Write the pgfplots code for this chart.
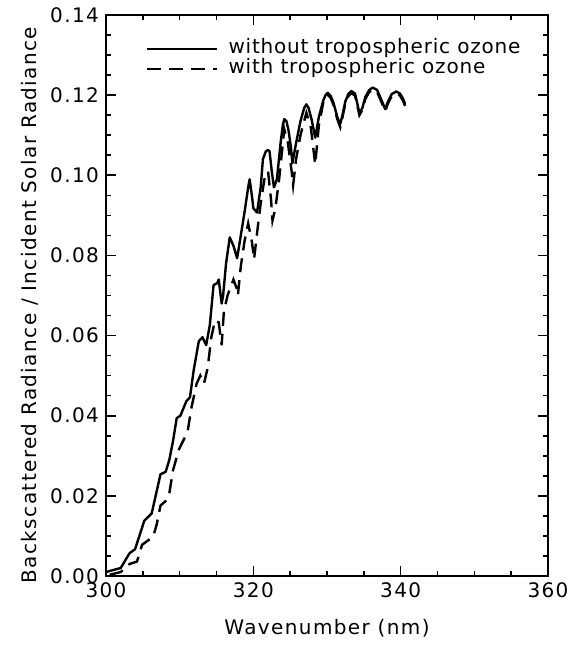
\documentclass[border=0pt]{standalone}
\usepackage{pgfplots}
\pgfplotsset{compat=1.18}
\usepackage{fontspec}
\setmainfont{DejaVu Sans}[LetterSpace=7]

\begin{document}
\begin{tikzpicture}
\useasboundingbox (-53pt,-34.5pt) rectangle (230.5pt,288pt);
\begin{axis}[
  scale only axis, width=221pt, height=280.5pt,
  xmin=300, xmax=360, ymin=0, ymax=0.14,
  xtick={300,320,340,360},
  ytick={0,0.02,0.04,0.06,0.08,0.10,0.12,0.14},
  minor x tick num=3, minor y tick num=3,
  tick align=inside,
  major tick length=5pt, minor tick length=2.5pt,
  axis line style={line width=1pt},
  every tick/.style={line width=0.8pt, black},
  scaled y ticks=false,
  yticklabel style={/pgf/number format/.cd, fixed, fixed zerofill, precision=2},
  /pgf/number format/assume math mode=true,
  tick label style={font=\fontsize{10}{12}\selectfont},
  label style={font=\fontsize{10}{12}\selectfont},
  xlabel={Wavenumber (nm)},
  ylabel={Backscattered Radiance / Incident Solar Radiance},
  every axis x label/.style={at={(axis description cs:0.5,-0.0927)}, anchor=center},
  every axis y label/.style={at={(axis description cs:-0.172,0.483)}, rotate=90, anchor=center},
  legend image code/.code={\draw[#1] (0pt,0pt) -- (35pt,0pt);},
  legend cell align=left,
  legend style={draw=none, fill=none, at={(axis description cs:0.09,0.958)},
    anchor=north west, inner sep=0pt,
    font=\fontsize{10}{12}\selectfont\addfontfeatures{LetterSpace=4},
    nodes={inner sep=1pt, text height=6.5pt, text depth=1.5pt},
    /tikz/column sep=4pt},
]
\addplot[black, line width=1.2pt, line join=round] coordinates {
(300,0.001) (302,0.002) (303.2,0.0057) (303.95,0.0067) (305.2,0.0138) (306.2,0.0156)
(307.4,0.0254) (308.1,0.026) (308.6,0.029) (309.1,0.0337) (309.6,0.0394) (310.1,0.040)
(310.9,0.0436) (311.4,0.0446) (311.9,0.0513) (312.6,0.0586) (313.1,0.0596) (313.6,0.0576)
(314.1,0.0627) (314.6,0.0726) (315.1,0.0731) (315.3,0.074) (315.7,0.068) (315.9,0.070)
(316.3,0.078) (316.8,0.0845) (317.3,0.0824) (317.8,0.0793) (318.3,0.085) (318.8,0.0907)
(319.3,0.097) (319.5,0.099) (319.8,0.095) (320.0,0.0918) (320.5,0.0907) (321.0,0.097)
(321.3,0.104) (321.7,0.1060) (322.0,0.1063) (322.2,0.106) (322.5,0.101) (322.8,0.097) (323.2,0.099)
(323.7,0.108) (324.0,0.1125) (324.2,0.114) (324.5,0.1135) (324.8,0.111) (325.1,0.107) (325.3,0.103) (325.8,0.108)
(326.4,0.1135) (326.9,0.1168) (327.2,0.1177) (327.5,0.1168) (327.9,0.1140) (328.4,0.1094) (328.9,0.1146) (329.5,0.1187)
(329.8,0.1200) (330.1,0.1206) (330.5,0.1198) (330.9,0.1180) (331.4,0.1145) (331.8,0.1128)
(332.1,0.1150) (332.5,0.1185) (332.9,0.1203) (333.3,0.1210) (333.8,0.1204) (334.1,0.1180)
(334.4,0.1155) (334.8,0.1168) (335.2,0.1195) (335.7,0.1212) (336.2,0.1219) (336.8,0.1213)
(337.3,0.1192) (337.9,0.1165) (338.3,0.1185) (338.8,0.1203) (339.4,0.1209) (339.9,0.1204)
(340.3,0.1192) (340.6,0.1178)
};
\addlegendentry{without tropospheric ozone}
\addplot[black, line width=1.2pt, dash pattern=on 7pt off 4pt] coordinates {
(300.5,0.0003) (302,0.001) (303.2,0.003) (304.2,0.0036) (304.9,0.0078) (306.4,0.0098)
(306.9,0.013) (307.4,0.0176) (308.1,0.0187) (308.6,0.0207) (309.1,0.0264) (309.9,0.0316)
(310.6,0.0342) (311.1,0.0363) (311.6,0.042) (312.3,0.048) (312.8,0.050) (313.3,0.048)
(313.8,0.0519) (314.3,0.0596) (314.8,0.0638) (315.3,0.0633) (315.7,0.0576) (316.0,0.066)
(316.5,0.070) (317.3,0.074) (317.7,0.072) (317.9,0.070) (318.3,0.0773) (318.8,0.0835)
(319.3,0.088) (319.8,0.0835) (320.1,0.079) (320.5,0.0855) (321.0,0.093) (321.5,0.099)
(322.0,0.101) (322.4,0.094) (322.6,0.0887) (323.0,0.0918) (323.5,0.099) (324.2,0.1115)
(324.7,0.108) (325.2,0.101) (325.4,0.0975) (325.8,0.104) (326.4,0.110) (327.2,0.1156)
(327.8,0.112) (328.4,0.1027) (328.9,0.1125) (329.5,0.1182)
(329.8,0.1195) (330.1,0.1201) (330.5,0.1193) (330.9,0.1175) (331.4,0.1140) (331.8,0.1120)
(332.1,0.1145) (332.5,0.1180) (332.9,0.1198) (333.3,0.1205) (333.8,0.1199) (334.1,0.1175)
(334.4,0.1150) (334.8,0.1163) (335.2,0.1190) (335.7,0.1207) (336.2,0.1214) (336.8,0.1208)
(337.3,0.1187) (337.9,0.1160) (338.3,0.1180) (338.8,0.1198) (339.4,0.1204) (339.9,0.1199)
(340.3,0.1187) (340.6,0.1173)
};
\addlegendentry{with tropospheric ozone}
\end{axis}
\end{tikzpicture}
\end{document}
